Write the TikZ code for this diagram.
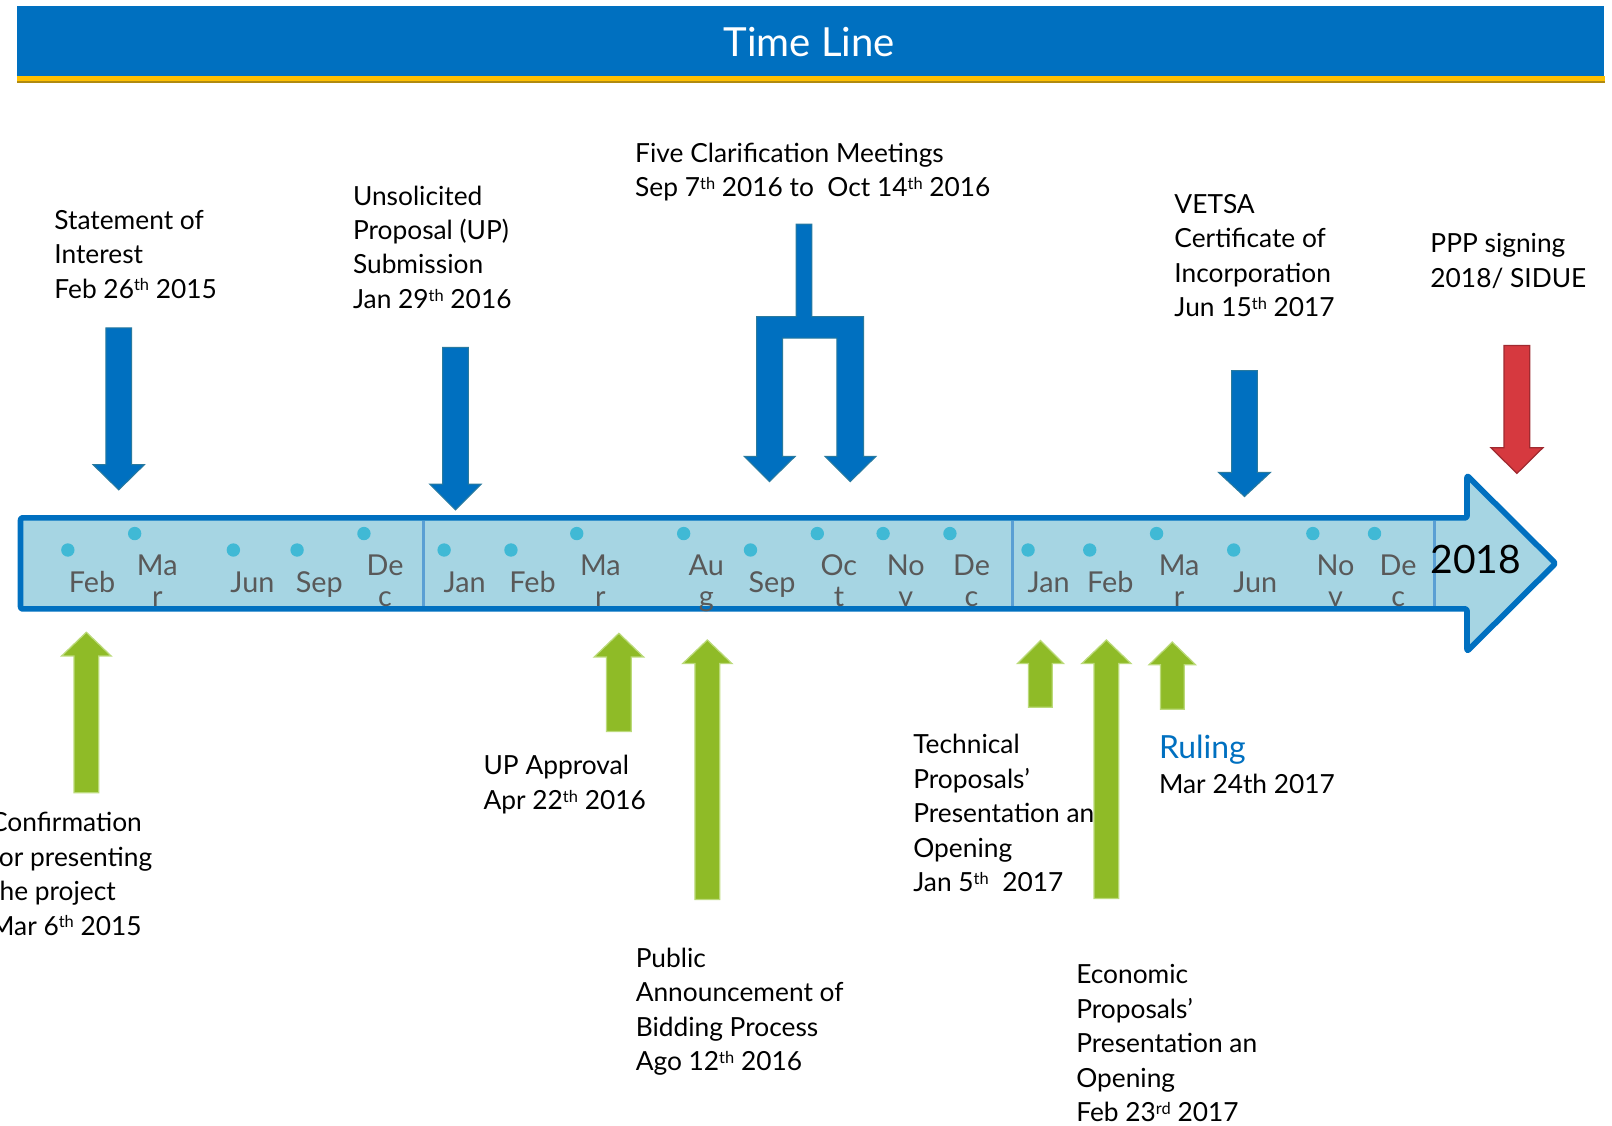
\documentclass[tikz,border=0pt]{standalone}
\usepackage{fontspec}
\setmainfont{Lato}
\definecolor{tlblue}{HTML}{0070C0}
\definecolor{blueedge}{HTML}{2A7A9E}
\definecolor{barfill}{HTML}{A6D5E3}
\definecolor{divblue}{HTML}{5A9FD4}
\definecolor{dotblue}{HTML}{40B9D5}
\definecolor{mongray}{HTML}{595959}
\definecolor{tlgreen}{HTML}{8FBB27}
\definecolor{greenedge}{HTML}{BBDA7A}
\definecolor{tlred}{HTML}{D6393F}
\definecolor{rededge}{HTML}{A02A30}
\definecolor{gold}{HTML}{FFC000}
\definecolor{darkgold}{HTML}{B08A10}
\newcommand\sups[1]{\raisebox{0.55ex}{\fontsize{8pt}{8pt}\selectfont #1}}
% style, cx, shaft half width, shaft end, head base, head half width, tip
\newcommand\BlkArr[7]{\draw[#1] ({#2-#3},#4) -- ({#2+#3},#4) -- ({#2+#3},#5) -- ({#2+#6},#5) -- (#2,#7) -- ({#2-#6},#5) -- ({#2-#3},#5) -- cycle;}
% multi-line nodes: the given point is the baseline of the LAST line
\tikzset{
  txt/.style={anchor=base west, align=left, inner sep=0pt, text=black,
    font=\fontsize{12.8pt}{16.75pt}\selectfont},
  mon/.style={anchor=base, align=center, inner sep=0pt, text=mongray,
    font=\fontsize{14pt}{15pt}\selectfont},
  mdot/.style={fill=dotblue, draw=none},
  bluearrow/.style={fill=tlblue, draw=blueedge, line width=0.5pt},
  greenarrow/.style={fill=tlgreen, draw=greenedge, line width=0.6pt},
  redarrow/.style={fill=tlred, draw=rededge, line width=0.6pt},
}
\begin{document}
\begin{tikzpicture}[x=0.5pt,y=-0.5pt]
\useasboundingbox (0,0) rectangle (1568,1095);
\clip (0,0) rectangle (1568,1095);
% title bar
\fill[tlblue] (17,6) rectangle (1560,74);
\fill[gold] (17,74) rectangle (1561,78.5);
\fill[darkgold] (17,78.5) rectangle (1561,80.5);
\node[anchor=base, inner sep=0pt, text=white, font=\fontsize{19.5pt}{20pt}\selectfont] (title) at (787,55) {Time Line};
% main timeline arrow
\draw[fill=barfill, draw=tlblue, line width=2.75pt, line join=round, rounded corners=1pt]
  (20,503.7) -- (1427,503.7) -- (1427,462.5) -- (1513,548) -- (1427,633.5) -- (1427,592.3) -- (20,592.3) -- cycle;
\foreach \xx in {412,985,1395} \draw[divblue, line width=1.6pt] (\xx,506.5) -- (\xx,589.5);
% dots
\foreach \xx/\yy in {66/535,131/519,227/535,289/535,354/519,
  432/535,497/535,561/519,665/519,730/535,795/519,859/519,924/519,
  1000/535,1060/535,1125/519,1200/535,1277/519,1337/519}
  \fill[mdot] (\xx,\yy) circle (6.5);
% month labels
\node[mon] (m1) at (89.5,576) {Feb};
\node[mon] (m2) at (153,590) {Ma\\r};
\node[mon] (m3) at (245.5,576) {Jun};
\node[mon] (m4) at (310.5,576) {Sep};
\node[mon] (m5) at (374.5,590) {De\\c};
\node[mon] (m6) at (452,576) {Jan};
\node[mon] (m7) at (518,576) {Feb};
\node[mon] (m8) at (584,590) {Ma\\r};
\node[mon] (m9) at (687,590) {Au\\g};
\node[mon] (m10) at (751,576) {Sep};
\node[mon] (m11) at (816,590) {Oc\\t};
\node[mon] (m12) at (881,590) {No\\v};
\node[mon] (m13) at (945,590) {De\\c};
\node[mon] (m14) at (1020,576) {Jan};
\node[mon] (m15) at (1080,576) {Feb};
\node[mon] (m16) at (1147,590) {Ma\\r};
\node[mon] (m17) at (1221,576) {Jun};
\node[mon] (m18) at (1299,590) {No\\v};
\node[mon] (m19) at (1360,590) {De\\c};
\node[anchor=base west, inner sep=0pt, text=black, font=\fontsize{19pt}{20pt}\selectfont] (y2018) at (1391,558) {2018};
% texts above
\node[txt] (t1) at (52.5,290) {Statement of\\Interest\\Feb 26\sups{th} 2015};
\node[txt] (t2) at (343,300) {Unsolicited\\Proposal (UP)\\Submission\\Jan 29\sups{th} 2016};
\node[txt] (t3) at (617.5,191.3) {Five Clarification Meetings\\Sep 7\sups{th} 2016 to\ \ Oct 14\sups{th} 2016};
\node[txt] (t4) at (1142,308) {VETSA\\Certificate of\\Incorporation\\Jun 15\sups{th} 2017};
\node[txt] (t5) at (1391,279.5) {PPP signing\\2018/ SIDUE};
% texts below
\node[txt] (b1) at (-10,909.5) {Confirmation\\for presenting\\the project\\Mar 6\sups{th} 2015};
\node[txt] (b2) at (470,787.3) {UP Approval\\Apr 22\sups{th} 2016};
\node[txt] (b3) at (618,1041.5) {Public\\Announcement of\\Bidding Process\\Ago 12\sups{th} 2016};
\node[txt] (b4) at (888,867.4) {Technical\\Proposals’\\Presentation an\\Opening\\Jan 5\sups{th}\ \ 2017};
\node[anchor=base west, inner sep=0pt, text=tlblue, font=\fontsize{15.5pt}{16pt}\selectfont] (b5) at (1127,737.7) {Ruling};
\node[txt] (b6) at (1127,771.7) {Mar 24th 2017};
\node[txt] (b7) at (1046.5,1091) {Economic\\Proposals’\\Presentation an\\Opening\\Feb 23\sups{rd} 2017};
% blue down arrows
\BlkArr{bluearrow}{115.5}{12.5}{319}{452}{25}{476.5}
\BlkArr{bluearrow}{443}{12.5}{338}{471}{25}{496}
\BlkArr{bluearrow}{1210.5}{12.5}{360.5}{459.5}{25.3}{483}
\BlkArr{redarrow}{1475.5}{12.5}{336}{435.5}{25.3}{460.5}
% forked arrow
\draw[bluearrow] (774.3,218) -- (789.6,218) -- (789.6,308) -- (840,308) -- (840,444) -- (852,444)
  -- (827,468.5) -- (802.5,444) -- (814,444) -- (814,329) -- (761.3,329) -- (761.3,444)
  -- (773.4,444) -- (748.4,468.5) -- (724,444) -- (736,444) -- (736,308) -- (774.3,308) -- cycle;
% green up arrows
\BlkArr{greenarrow}{84}{12}{771}{638}{24}{615}
\BlkArr{greenarrow}{602}{12}{711.5}{639}{24}{616}
\BlkArr{greenarrow}{688}{12}{875}{645.5}{24}{622.5}
\BlkArr{greenarrow}{1012}{11.5}{688}{645.5}{22.5}{623}
\BlkArr{greenarrow}{1076.2}{12}{874}{645.5}{24}{622.5}
\BlkArr{greenarrow}{1140.3}{11.5}{690}{646.5}{22.5}{624.5}
\end{tikzpicture}
\end{document}
